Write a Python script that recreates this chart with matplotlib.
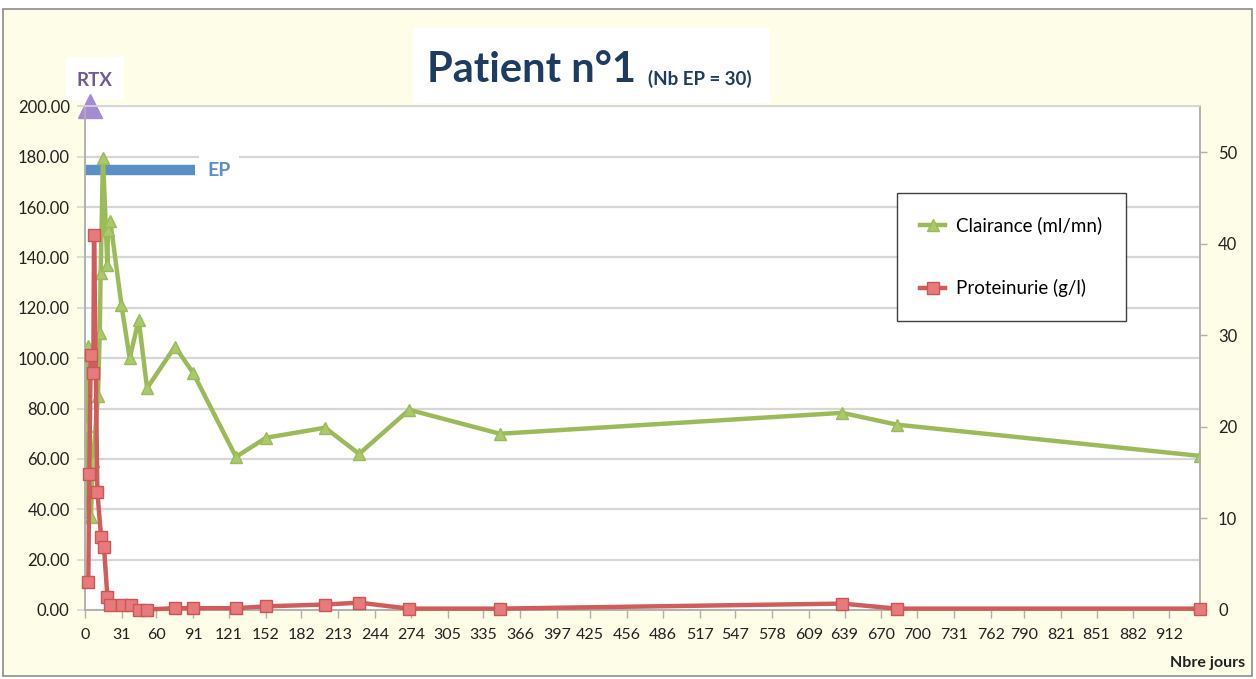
import matplotlib
matplotlib.use("Agg")
import matplotlib.pyplot as plt
from matplotlib.patches import Rectangle
from matplotlib.lines import Line2D

# ---- data ----
clair_days = [0, 1, 2.5, 5, 6.7, 10.9, 12.4, 13.2, 15.1, 18.8, 19.4, 21.3, 30.6, 37.6, 45.2, 52.2,
              75.7, 90.9, 127, 152.3, 202, 230.6, 272.7, 349, 637, 683, 938]
clair_vals = [39, 73, 105, 37, 59, 85, 110, 134, 179.6, 137, 151, 154.4, 121.3, 100, 115.3, 88.1,
              104.6, 94.2, 60.8, 68.4, 72.4, 62, 79.5, 70, 78.3, 73.6, 61.2]

prot_days = [2.8, 3.6, 4.8, 7.0, 7.6, 10.4, 13.5, 16, 18.8, 21, 30.9, 38.5, 45.7, 52.4,
             75.7, 90.9, 127, 152.3, 202, 230.6, 272.7, 349, 637, 683, 938]
prot_vals = [3.1, 14.8, 27.9, 25.9, 41.0, 12.9, 8.0, 6.9, 1.45, 0.55, 0.55, 0.55, 0.05, 0.05,
             0.2, 0.2, 0.2, 0.4, 0.6, 0.8, 0.15, 0.15, 0.7, 0.15, 0.15]

x_ticks = [0, 31, 60, 91, 121, 152, 182, 213, 244, 274, 305, 335, 366, 397, 425, 456, 486,
           517, 547, 578, 609, 639, 670, 700, 731, 762, 790, 821, 851, 882, 912]
left_ticks = [0, 20, 40, 60, 80, 100, 120, 140, 160, 180, 200]
right_ticks = [0, 10, 20, 30, 40, 50]

rtx_day, rtx_val = 4.6, 200
ep_start, ep_end, ep_val = 0, 92.6, 174.7

W, H = 1256, 679
plt.rcParams['font.family'] = ['Lato', 'DejaVu Sans']

fig = plt.figure(figsize=(W / 100, H / 100), dpi=100)
fig.patch.set_facecolor('white')

def fx(px):
    return px / W

def fy(py):
    return 1 - py / H

# outer cream panel
fig.patches.append(Rectangle((fx(3), fy(676)), fx(1252) - fx(3), fy(9) - fy(676),
                             transform=fig.transFigure, facecolor='#FEFDE7',
                             edgecolor='#8C8C8C', linewidth=1.2, zorder=-3))
# title white box
fig.patches.append(Rectangle((fx(413), fy(103)), fx(770) - fx(413), fy(28) - fy(103),
                             transform=fig.transFigure, facecolor='white',
                             edgecolor='none', zorder=-2))
# RTX white box
fig.patches.append(Rectangle((fx(66), fy(100)), fx(124) - fx(66), fy(57) - fy(100),
                             transform=fig.transFigure, facecolor='white',
                             edgecolor='none', zorder=-2))

ax = fig.add_axes([fx(85), fy(610), fx(1200) - fx(85), fy(106.4) - fy(610)])
ax.set_facecolor('white')
ax.set_xlim(0, 938)
ax.set_ylim(0, 200)
ax2 = ax.twinx()
ax2.set_ylim(0, 55)

grid_c = '#D6D6D6'
axis_c = '#B0B0B0'
for a in (ax, ax2):
    for s in a.spines.values():
        s.set_color(axis_c)
        s.set_linewidth(1.2)
    a.spines['top'].set_color(grid_c)

ax.set_yticks(left_ticks)
ax.set_yticklabels([f"{v:.2f}" for v in left_ticks])
ax.yaxis.grid(True, color=grid_c, linewidth=1.6)
ax.set_axisbelow(True)
ax.set_xticks(x_ticks)
ax.set_xticklabels([str(v) for v in x_ticks])
ax.tick_params(axis='y', length=6, width=1.2, color=grid_c, pad=5, labelsize=12, labelcolor='#222222')
ax.tick_params(axis='x', length=6, width=1.0, color=axis_c, pad=7, labelsize=11.5, labelcolor='#222222')
ax2.set_yticks(right_ticks)
ax2.tick_params(axis='y', length=5, width=1.0, color=axis_c, pad=8, labelsize=12, labelcolor='#222222')

# EP bar
ax.plot([ep_start, ep_end], [ep_val, ep_val], color='#5B8FC8', linewidth=7.5,
        solid_capstyle='butt', zorder=2)
ax.text(ep_end + 10, ep_val, 'EP', color='#5B8FC8', fontsize=14, fontweight='bold',
        va='center', ha='left', zorder=2,
        bbox=dict(facecolor='white', edgecolor='none', pad=6))

# Clairance (left)
green = '#9BBB59'
ax.plot(clair_days, clair_vals, color=green, linewidth=3.2, marker='^', markersize=8,
        markerfacecolor='#A9C96A', markeredgecolor='#9BBB59', zorder=3,
        label='Clairance (ml/mn)')

# Proteinurie (right)
red_line = '#D05C5C'
ax2.plot(prot_days, prot_vals, color=red_line, linewidth=3.2, marker='s', markersize=9,
         markerfacecolor='#E77B7B', markeredgecolor='#CC5555', zorder=3,
         label='Proteinurie (g/l)', clip_on=False)

# RTX marker
ax.plot([rtx_day], [rtx_val], marker='^', markersize=17, color='#A58BD3',
        markeredgecolor='#A58BD3', clip_on=False, zorder=5)
fig.text(fx(95), fy(80), 'RTX', color='#6F5A94', fontsize=13.5, fontweight='bold',
         ha='center', va='center', zorder=3)

# Title
fig.text(fx(427), fy(70), 'Patient n°1', color='#1E3C62', fontsize=30, fontweight='bold',
         ha='left', va='center', zorder=3)
fig.text(fx(648), fy(79), '(Nb EP = 30)', color='#1E3C62', fontsize=13.5, fontweight='bold',
         ha='left', va='center', zorder=3)

# x-axis name
fig.text(fx(1245), fy(663), 'Nbre jours', color='#222222', fontsize=11.5, fontweight='bold',
         ha='right', va='center', zorder=3)

# legend
handles = [Line2D([], [], color=green, linewidth=3.2, marker='^', markersize=8,
                  markerfacecolor='#A9C96A', markeredgecolor=green),
           Line2D([], [], color=red_line, linewidth=3.2, marker='s', markersize=9,
                  markerfacecolor='#E77B7B', markeredgecolor='#CC5555')]
leg = fig.legend(handles, ['Clairance (ml/mn)', 'Proteinurie (g/l)'],
                 loc='upper left', bbox_to_anchor=(fx(897), fy(193)),
                 fontsize=13.5, frameon=True, fancybox=False, labelspacing=2.4,
                 handlelength=1.3, handletextpad=0.6, borderpad=1.25, borderaxespad=0)
leg.get_frame().set_edgecolor('#404040')
leg.get_frame().set_linewidth(1.0)
leg.get_frame().set_facecolor('white')
leg.get_frame().set_alpha(1)

fig.savefig('out.png', dpi=100, facecolor=fig.get_facecolor())
